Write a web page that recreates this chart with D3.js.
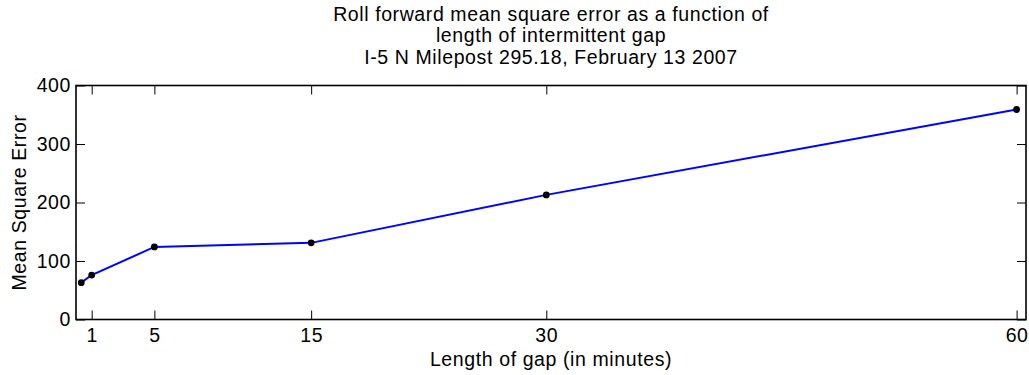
<!DOCTYPE html>
<html>
<head>
<meta charset="utf-8">
<script src="https://cdn.jsdelivr.net/npm/d3@7"></script>
<style>
  html, body { margin: 0; padding: 0; background: #fff; }
  svg { display: block; }
  text { font-family: "Liberation Sans", Arial, sans-serif; fill: #000; }
</style>
</head>
<body>
<div id="chart"></div>
<script>
// Gap lengths in minutes (first gap is 20 seconds)
const gapMinutes = [1 / 3, 1, 5, 15, 30, 60];
// Roll forward mean square error for each gap length
const mseValues = [63, 76, 124, 131, 213, 359];
// Axis tick values
const xTicks = [1, 5, 15, 30, 60];
const yTicks = [0, 100, 200, 300, 400];

const titleLines = [
  "Roll forward mean square error as a function of",
  "length of intermittent gap",
  "I-5 N Milepost 295.18, February 13 2007"
];

const W = 1029, H = 375;
const plot = { left: 76, right: 1026, top: 85.5, bottom: 319.5 };
const fontSize = 19.5;
const spacing = "0.6px";

const svg = d3.select("#chart").append("svg")
  .attr("width", W).attr("height", H);

const x = d3.scaleLinear().domain([0, 60.6]).range([plot.left, plot.right]);
const y = d3.scaleLinear().domain([0, 400]).range([plot.bottom, plot.top]);

const tickLen = 9;

// Bottom axis: inward ticks, labels below
const xAxisBottom = d3.axisBottom(x).tickValues(xTicks).tickSize(-tickLen).tickPadding(8.5).tickFormat(d3.format("d"));
const gxb = svg.append("g").attr("transform", `translate(0,${plot.bottom})`).call(xAxisBottom);
// Top axis: inward ticks, no labels
const xAxisTop = d3.axisTop(x).tickValues(xTicks).tickSize(-tickLen).tickFormat("");
const gxt = svg.append("g").attr("transform", `translate(0,${plot.top})`).call(xAxisTop);
// Left axis: inward ticks, labels to the left
const yAxisLeft = d3.axisLeft(y).tickValues(yTicks).tickSize(-tickLen).tickPadding(5).tickFormat(d3.format("d"));
const gyl = svg.append("g").attr("transform", `translate(${plot.left},0)`).call(yAxisLeft);
// Right axis: inward ticks, no labels
const yAxisRight = d3.axisRight(y).tickValues(yTicks).tickSize(-tickLen).tickFormat("");
const gyr = svg.append("g").attr("transform", `translate(${plot.right},0)`).call(yAxisRight);

[gxb, gxt, gyl, gyr].forEach(g => {
  g.select(".domain").remove();
  g.selectAll(".tick line").attr("stroke", "#000").attr("stroke-width", 1);
  g.selectAll(".tick text")
    .style("font-family", '"Liberation Sans", Arial, sans-serif')
    .style("font-size", fontSize + "px")
    .style("letter-spacing", spacing)
    .attr("fill", "#000");
});

// Box around the plot area
svg.append("rect")
  .attr("x", plot.left).attr("y", plot.top)
  .attr("width", plot.right - plot.left)
  .attr("height", plot.bottom - plot.top)
  .attr("fill", "none").attr("stroke", "#000").attr("stroke-width", 1.6);

const data = gapMinutes.map((g, i) => ({ g, v: mseValues[i] }));

// Error curve
svg.append("path")
  .datum(data)
  .attr("fill", "none")
  .attr("stroke", "#0000ff")
  .attr("stroke-width", 2)
  .attr("d", d3.line().x(d => x(d.g)).y(d => y(d.v)));

// Point markers
svg.append("g").selectAll("circle")
  .data(data).join("circle")
  .attr("cx", d => x(d.g)).attr("cy", d => y(d.v))
  .attr("r", 3.4).attr("fill", "#000");

// Title
const cx = (plot.left + plot.right) / 2;
svg.append("g").selectAll("text")
  .data(titleLines).join("text")
  .attr("x", cx)
  .attr("y", (d, i) => 20.5 + i * 21.8)
  .attr("text-anchor", "middle")
  .style("font-size", fontSize + "px")
  .style("letter-spacing", spacing)
  .text(d => d);

// Axis labels
svg.append("text")
  .attr("x", cx).attr("y", 366)
  .attr("text-anchor", "middle")
  .style("font-size", fontSize + "px")
  .style("letter-spacing", spacing)
  .text("Length of gap (in minutes)");

svg.append("text")
  .attr("transform", `translate(26,${(plot.top + plot.bottom) / 2}) rotate(-90)`)
  .attr("text-anchor", "middle")
  .style("font-size", fontSize + "px")
  .style("letter-spacing", spacing)
  .text("Mean Square Error");
</script>
</body>
</html>
